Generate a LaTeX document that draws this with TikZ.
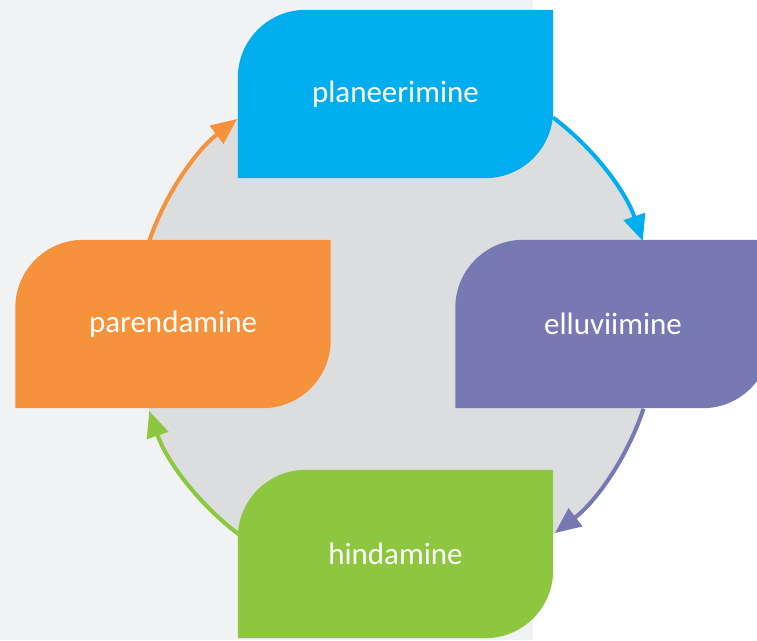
\documentclass[tikz,border=0pt]{standalone}
\usepackage{fontspec}
\setmainfont{Carlito}
\usetikzlibrary{arrows.meta}
\pgfdeclarelayer{background}
\pgfsetlayers{background,main}
\definecolor{bgg}{HTML}{F1F2F4}
\definecolor{circ}{HTML}{DCDDDF}
\definecolor{cblue}{HTML}{00AEEF}
\definecolor{cpurp}{HTML}{7779B2}
\definecolor{corng}{HTML}{F6923C}
\definecolor{cgrn}{HTML}{8DC63F}
\tikzset{
  box/.style={minimum width=315pt, minimum height=168pt, inner sep=0pt, text=white,
    font=\fontsize{31}{36}\selectfont},
  cyc/.style={line width=4pt, -{Triangle[length=26pt,width=22pt]}},
}
\newcommand\leafshape[2]{%
  \fill[#2] (#1.south west) -- ([yshift=-68pt]#1.north west)
    arc[start angle=180,end angle=90,radius=68pt] -- (#1.north east)
    -- ([yshift=68pt]#1.south east)
    arc[start angle=0,end angle=-90,radius=68pt] -- cycle;}
\begin{document}
\begin{tikzpicture}[x=1pt,y=1pt]
\useasboundingbox (0,0) rectangle (757,640);
\node[box] (plan) at (395.5,546) {planeerimine};
\node[box] (ellu) at (613,316) {elluviimine};
\node[box] (paren) at (173,316) {parendamine};
\node[box] (hind) at (395.5,86) {hindamine};
\coordinate (c) at (396,314);
\coordinate (o1) at ([shift={(161:261)}]c);
\coordinate (b1) at ([shift={(53:261)}]c);
\coordinate (p1) at ([shift={(-18.5:261)}]c);
\coordinate (g1) at ([shift={(-127:261)}]c);
\begin{pgfonlayer}{background}
  \fill[white] (0,0) rectangle (757,640);
  \fill[bgg] (0,0) rectangle (533,640);
  \fill[circ] (c) circle[radius=261];
  \draw[cyc, corng] (o1) arc[start angle=161, end angle=127.5, radius=261];
  \draw[cyc, cblue] (b1) arc[start angle=53, end angle=19, radius=261];
  \draw[cyc, cpurp] (p1) arc[start angle=-18.5, end angle=-52.5, radius=261];
  \draw[cyc, cgrn] (g1) arc[start angle=-127, end angle=-161, radius=261];
  \leafshape{plan}{cblue}
  \leafshape{ellu}{cpurp}
  \leafshape{paren}{corng}
  \leafshape{hind}{cgrn}
\end{pgfonlayer}
\end{tikzpicture}
\end{document}
